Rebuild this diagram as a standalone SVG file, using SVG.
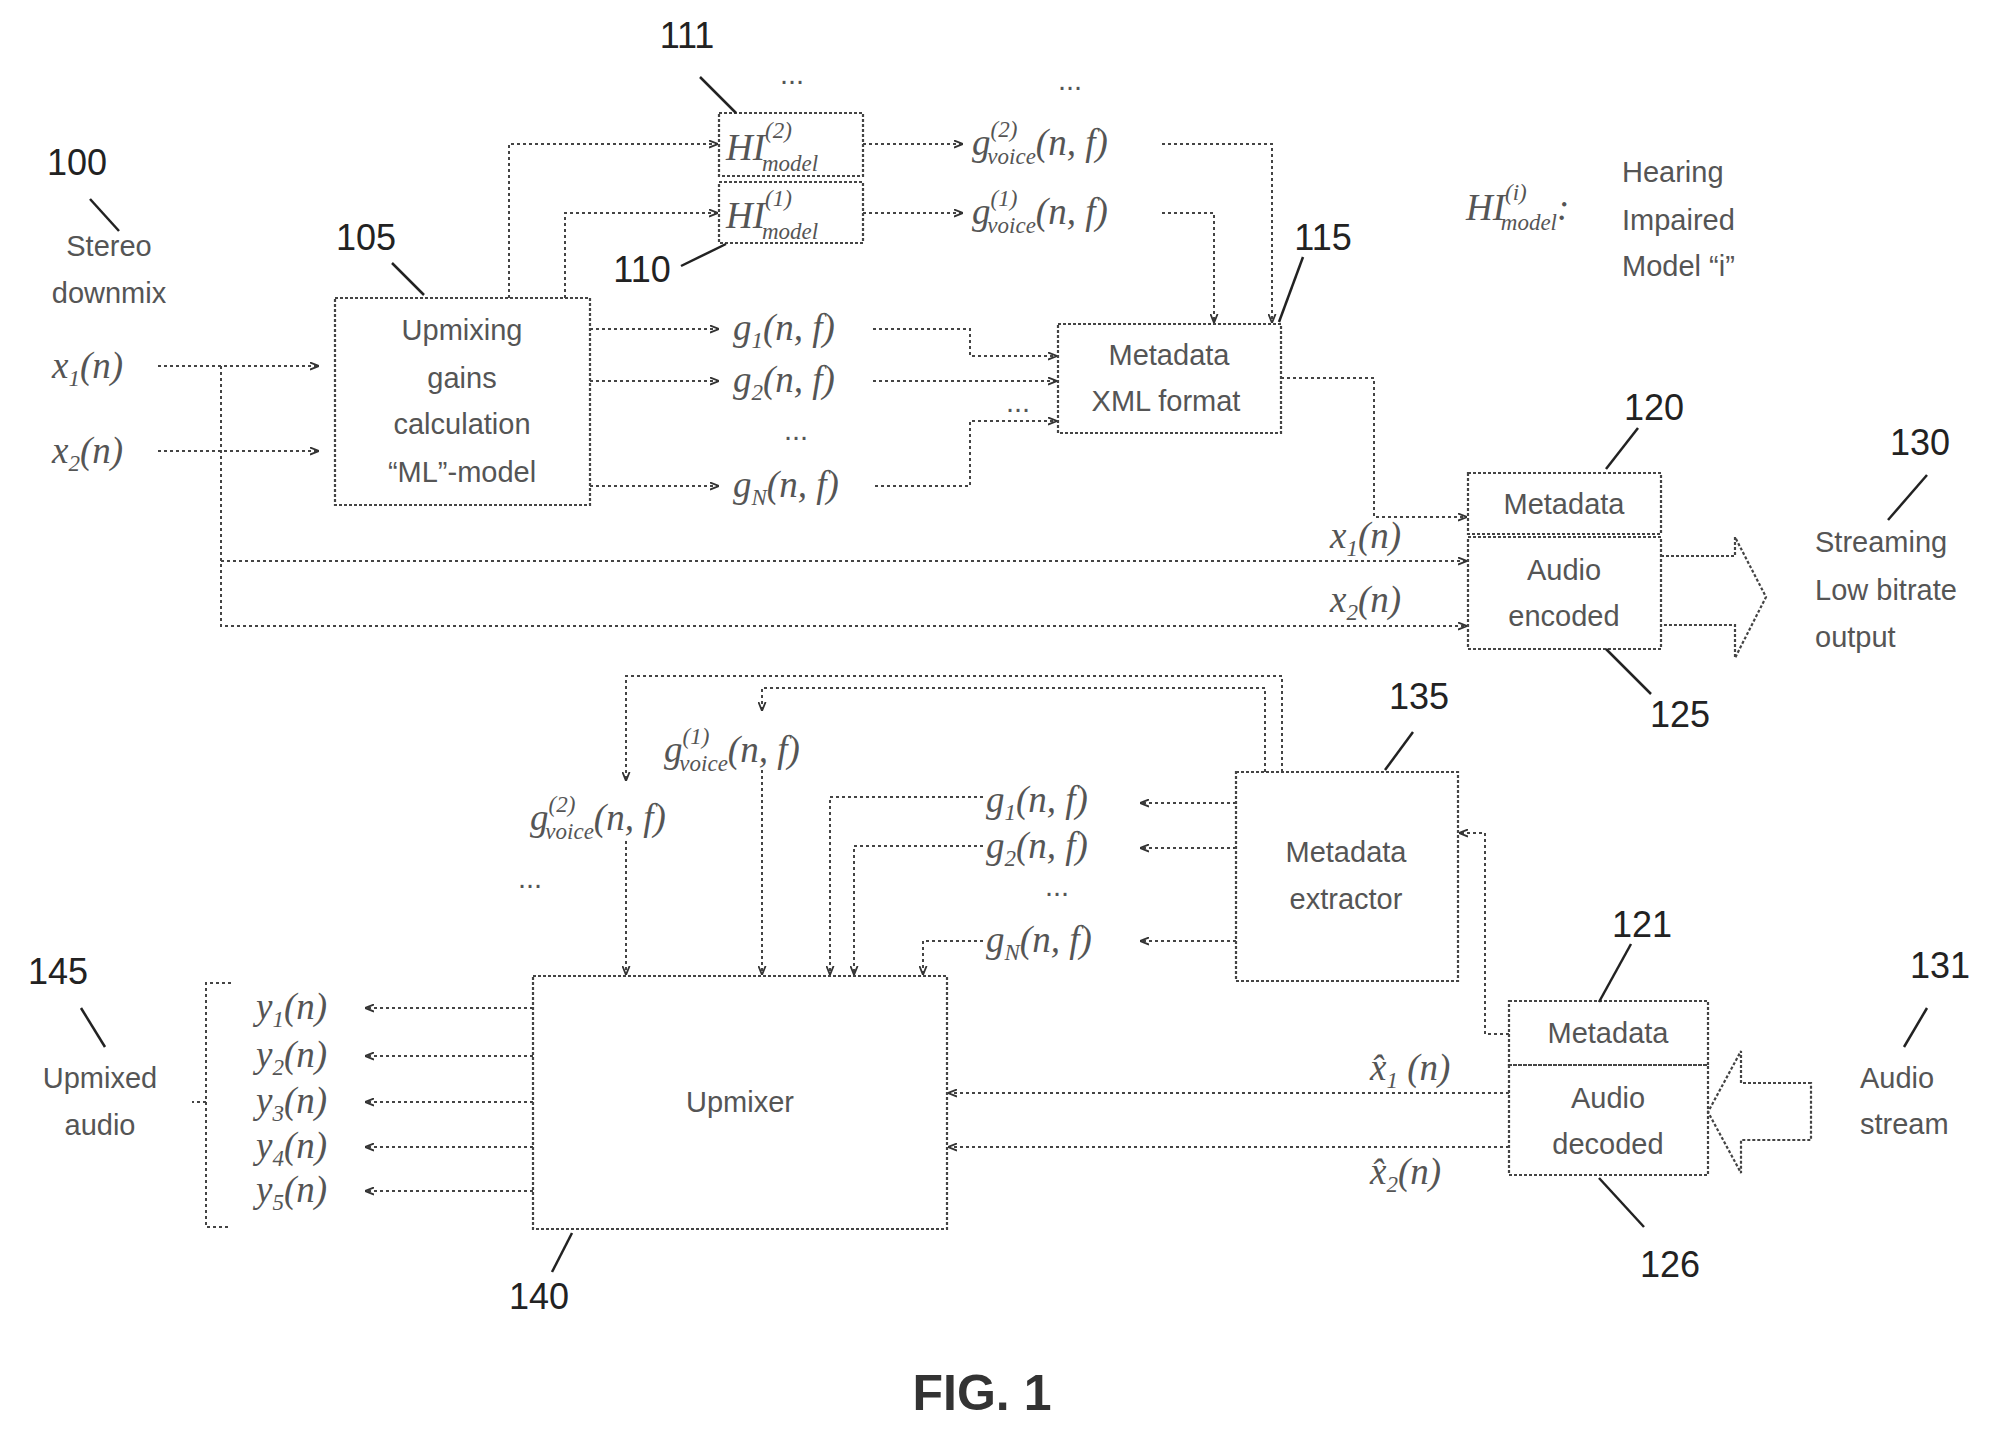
<svg xmlns="http://www.w3.org/2000/svg" width="2014" height="1436" viewBox="0 0 2014 1436">
<style>
.bx{fill:none;stroke:#444;stroke-width:2.2;stroke-dasharray:3,2}
.ln{fill:none;stroke:#444;stroke-width:2;stroke-dasharray:3,3}
.ld{stroke:#222;stroke-width:2.5}
.num{font-family:"Liberation Sans",Arial,sans-serif;font-size:36px;fill:#222;text-anchor:middle}
.t{font-family:"Liberation Sans",Arial,sans-serif;font-size:29px;fill:#555;text-anchor:middle}
.tl{font-family:"Liberation Sans",Arial,sans-serif;font-size:29px;fill:#555}
.m{font-family:"Liberation Serif","Times New Roman",serif;font-style:italic;font-size:37px;fill:#555}
.s{font-size:23px}
</style>
<defs>
<marker id="a" viewBox="0 0 10 10" refX="9" refY="5" markerWidth="9" markerHeight="9" markerUnits="userSpaceOnUse" orient="auto"><path d="M0,1 L10,5 L0,9" fill="none" stroke="#333" stroke-width="2"/></marker>
</defs>
<rect width="2014" height="1436" fill="#fff"/>
<g id="connectors" marker-end="url(#a)">
<path class="ln" d="M158,366 H318"/>
<path class="ln" d="M158,451 H318"/>
<path class="ln" d="M221,366 V626 H1466"/>
<path class="ln" d="M221,561 H1466"/>
<path class="ln" d="M509,298 V144 H717"/>
<path class="ln" d="M565,298 V213 H717"/>
<path class="ln" d="M863,144 H962"/>
<path class="ln" d="M863,213 H962"/>
<path class="ln" d="M1162,144 H1272 V322"/>
<path class="ln" d="M1162,213 H1214 V322"/>
<path class="ln" d="M590,329 H718"/>
<path class="ln" d="M590,381 H718"/>
<path class="ln" d="M590,486 H718"/>
<path class="ln" d="M873,329 H970 V356 H1056"/>
<path class="ln" d="M873,381 H1056"/>
<path class="ln" d="M875,486 H970 V421 H1056"/>
<path class="ln" d="M1281,378 H1374 V517 H1466"/>
<path class="ln" d="M1282,772 V676 H626 V780"/>
<path class="ln" d="M1265,772 V688 H762 V710"/>
<path class="ln" d="M626,841 V974"/>
<path class="ln" d="M762,770 V974"/>
<path class="ln" d="M1236,803 H1141"/>
<path class="ln" d="M1236,848 H1141"/>
<path class="ln" d="M1236,941 H1141"/>
<path class="ln" d="M983,797 H830 V974"/>
<path class="ln" d="M983,846 H854 V974"/>
<path class="ln" d="M983,941 H923 V974"/>
<path class="ln" d="M1509,1034 H1485 V833 H1460"/>
<path class="ln" d="M1509,1093 H949"/>
<path class="ln" d="M1509,1147 H949"/>
<path class="ln" d="M533,1008 H366"/>
<path class="ln" d="M533,1056 H366"/>
<path class="ln" d="M533,1102 H366"/>
<path class="ln" d="M533,1147 H366"/>
<path class="ln" d="M533,1191 H366"/>
</g>
<g id="arrows">
<path class="bx" d="M1661,556 H1735 V537 L1766,597 L1735,658 V625 H1661"/>
<path class="bx" d="M1811,1083 H1741 V1051 L1708,1112 L1741,1173 V1140 H1811 Z"/>
<path class="ln" d="M231,983 H206 V1227 H231 M206,1102 H192"/>
</g>
<g id="n100"><text class="num" x="77" y="175">100</text><line class="ld" x1="90" y1="199" x2="119" y2="231"/><text class="t" x="109" y="256">Stereo</text><text class="t" x="109" y="303">downmix</text></g>
<g id="inputs"><text class="m" x="52" y="378">x<tspan class="s" dy="8">1</tspan><tspan dy="-8">(n)</tspan></text><text class="m" x="52" y="463">x<tspan class="s" dy="8">2</tspan><tspan dy="-8">(n)</tspan></text></g>
<g id="n105"><rect class="bx" x="335" y="298" width="255" height="207"/><text class="num" x="366" y="250">105</text><line class="ld" x1="392" y1="263" x2="424" y2="295"/><text class="t" x="462" y="340">Upmixing</text><text class="t" x="462" y="388">gains</text><text class="t" x="462" y="434">calculation</text><text class="t" x="462" y="482">“ML”-model</text></g>
<g id="n111"><rect class="bx" x="719" y="113" width="144" height="63"/><text class="num" x="687" y="48">111</text><line class="ld" x1="700" y1="77" x2="736" y2="113"/><text class="tl" x="780" y="84" font-size="18">...</text><text class="m" x="726" y="160">HI<tspan class="s" dy="-22">(2)</tspan><tspan class="s" dx="-30" dy="33">model</tspan></text></g>
<g id="n110"><rect class="bx" x="719" y="182" width="144" height="61"/><text class="num" x="642" y="282">110</text><line class="ld" x1="681" y1="266" x2="726" y2="244"/><text class="m" x="726" y="228">HI<tspan class="s" dy="-22">(1)</tspan><tspan class="s" dx="-30" dy="33">model</tspan></text></g>
<g id="gains-top">
<text class="tl" x="1058" y="90" font-size="18">...</text>
<text class="m" x="972" y="155">g<tspan class="s" dy="-18">(2)</tspan><tspan class="s" dx="-30" dy="27">voice</tspan><tspan dy="-9">(n, f)</tspan></text>
<text class="m" x="972" y="224">g<tspan class="s" dy="-18">(1)</tspan><tspan class="s" dx="-30" dy="27">voice</tspan><tspan dy="-9">(n, f)</tspan></text>
<text class="m" x="733" y="340">g<tspan class="s" dy="8">1</tspan><tspan dy="-8">(n, f)</tspan></text>
<text class="m" x="733" y="392">g<tspan class="s" dy="8">2</tspan><tspan dy="-8">(n, f)</tspan></text>
<text class="t" x="796" y="440">...</text>
<text class="m" x="733" y="497">g<tspan class="s" dy="8">N</tspan><tspan dy="-8">(n, f)</tspan></text>
<text class="t" x="1018" y="412">...</text>
</g>
<g id="n115"><rect class="bx" x="1058" y="324" width="223" height="109"/><text class="num" x="1323" y="250">115</text><line class="ld" x1="1303" y1="257" x2="1279" y2="322"/><text class="t" x="1169" y="365">Metadata</text><text class="t" x="1166" y="411">XML format</text></g>
<g id="legend"><text class="m" x="1466" y="220">HI<tspan class="s" dy="-20">(i)</tspan><tspan class="s" dx="-26" dy="30">model</tspan><tspan dy="-10">:</tspan></text><text class="tl" x="1622" y="182">Hearing</text><text class="tl" x="1622" y="230">Impaired</text><text class="tl" x="1622" y="276">Model “i”</text></g>
<g id="n120"><rect class="bx" x="1468" y="473" width="193" height="61"/><text class="num" x="1654" y="420">120</text><line class="ld" x1="1638" y1="428" x2="1606" y2="469"/><text class="t" x="1564" y="514">Metadata</text></g>
<g id="n125"><rect class="bx" x="1468" y="537" width="193" height="112"/><text class="num" x="1680" y="727">125</text><line class="ld" x1="1606" y1="649" x2="1651" y2="694"/><text class="t" x="1564" y="580">Audio</text><text class="t" x="1564" y="626">encoded</text>
<text class="m" x="1330" y="548">x<tspan class="s" dy="8">1</tspan><tspan dy="-8">(n)</tspan></text><text class="m" x="1330" y="612">x<tspan class="s" dy="8">2</tspan><tspan dy="-8">(n)</tspan></text></g>
<g id="n130"><text class="num" x="1920" y="455">130</text><line class="ld" x1="1927" y1="475" x2="1888" y2="520"/><text class="tl" x="1815" y="552">Streaming</text><text class="tl" x="1815" y="600">Low bitrate</text><text class="tl" x="1815" y="647">output</text></g>
<g id="n135"><rect class="bx" x="1236" y="772" width="222" height="209"/><text class="num" x="1419" y="709">135</text><line class="ld" x1="1413" y1="732" x2="1385" y2="770"/><text class="t" x="1346" y="862">Metadata</text><text class="t" x="1346" y="909">extractor</text></g>
<g id="gains-bottom">
<text class="m" x="664" y="762">g<tspan class="s" dy="-18">(1)</tspan><tspan class="s" dx="-30" dy="27">voice</tspan><tspan dy="-9">(n, f)</tspan></text>
<text class="m" x="530" y="830">g<tspan class="s" dy="-18">(2)</tspan><tspan class="s" dx="-30" dy="27">voice</tspan><tspan dy="-9">(n, f)</tspan></text>
<text class="tl" x="518" y="888" font-size="16">...</text>
<text class="m" x="986" y="812">g<tspan class="s" dy="8">1</tspan><tspan dy="-8">(n, f)</tspan></text>
<text class="m" x="986" y="858">g<tspan class="s" dy="8">2</tspan><tspan dy="-8">(n, f)</tspan></text>
<text class="t" x="1057" y="896">...</text>
<text class="m" x="986" y="952">g<tspan class="s" dy="8">N</tspan><tspan dy="-8">(n, f)</tspan></text>
</g>
<g id="n121"><rect class="bx" x="1509" y="1001" width="199" height="64"/><text class="num" x="1642" y="937">121</text><line class="ld" x1="1631" y1="944" x2="1599" y2="1002"/><text class="t" x="1608" y="1043">Metadata</text></g>
<g id="n126"><rect class="bx" x="1509" y="1065" width="199" height="110"/><text class="num" x="1670" y="1277">126</text><line class="ld" x1="1599" y1="1178" x2="1644" y2="1227"/><text class="t" x="1608" y="1108">Audio</text><text class="t" x="1608" y="1154">decoded</text>
<text class="m" x="1370" y="1080">x̂<tspan class="s" dy="8">1</tspan><tspan dy="-8"> (n)</tspan></text><text class="m" x="1370" y="1184">x̂<tspan class="s" dy="8">2</tspan><tspan dy="-8">(n)</tspan></text></g>
<g id="n131"><text class="num" x="1940" y="978">131</text><line class="ld" x1="1927" y1="1008" x2="1904" y2="1047"/><text class="tl" x="1860" y="1088">Audio</text><text class="tl" x="1860" y="1134">stream</text></g>
<g id="n140"><rect class="bx" x="533" y="976" width="414" height="253"/><text class="t" x="740" y="1112">Upmixer</text><text class="num" x="539" y="1309">140</text><line class="ld" x1="552" y1="1272" x2="572" y2="1233"/></g>
<g id="n145"><text class="num" x="58" y="984">145</text><line class="ld" x1="81" y1="1008" x2="105" y2="1047"/><text class="t" x="100" y="1088">Upmixed</text><text class="t" x="100" y="1135">audio</text>
<text class="m" x="256" y="1019">y<tspan class="s" dy="8">1</tspan><tspan dy="-8">(n)</tspan></text>
<text class="m" x="256" y="1067">y<tspan class="s" dy="8">2</tspan><tspan dy="-8">(n)</tspan></text>
<text class="m" x="256" y="1113">y<tspan class="s" dy="8">3</tspan><tspan dy="-8">(n)</tspan></text>
<text class="m" x="256" y="1158">y<tspan class="s" dy="8">4</tspan><tspan dy="-8">(n)</tspan></text>
<text class="m" x="256" y="1202">y<tspan class="s" dy="8">5</tspan><tspan dy="-8">(n)</tspan></text></g>
<text x="982" y="1410" font-family="Liberation Sans,Arial,sans-serif" font-weight="bold" font-size="50" fill="#333" text-anchor="middle">FIG. 1</text>
</svg>
